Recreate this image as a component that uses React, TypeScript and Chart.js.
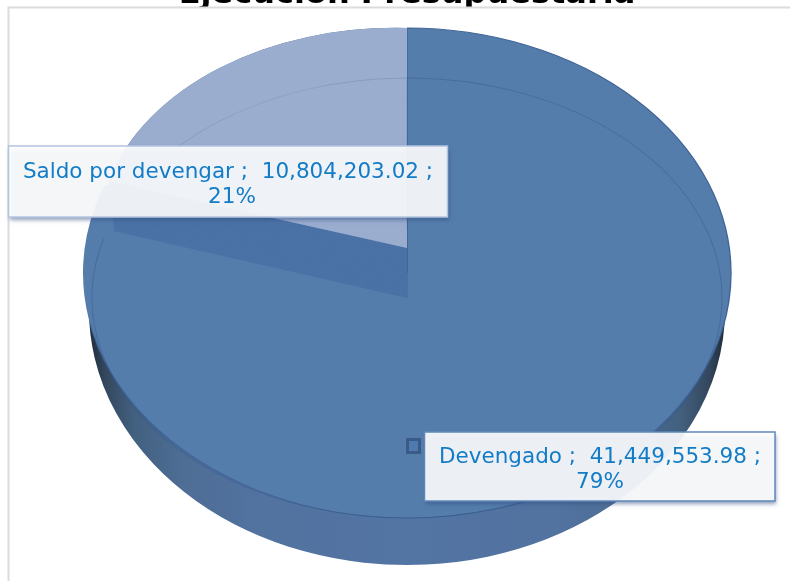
import React, { useEffect, useRef } from "react";
import { Chart, registerables } from "chart.js";

Chart.register(...registerables);

const categories = ["Devengado", "Saldo por devengar"];
const values = [41449553.98, 10804203.02];
const titleText = "Ejecución Presupuestaria";

const TOP_CROP = 25;
const WIDTH = 790;
const HEIGHT = 581;

const total = values.reduce((a, b) => a + b, 0);
const fmt = (v: number) => v.toLocaleString("en-US", { minimumFractionDigits: 2, maximumFractionDigits: 2 });
const labelLines = (i: number) => [
  `${categories[i]} ;  ${fmt(values[i])} ;`,
  `${Math.round((values[i] / total) * 100)}%`,
];

function withArc(ctx: any, el: any, shape: number[], style: any, shear = 0) {
  const [cx, cy, rx, ry] = shape;
  const R = el.outerRadius;
  ctx.save();
  ctx.translate(cx, cy);
  ctx.transform(rx / R, (shear * rx) / R, 0, ry / R, 0, 0);
  ctx.translate(-el.x, -el.y);
  const saved = el.options;
  el.options = Object.assign({}, saved, { borderWidth: 0, borderColor: "transparent" }, style);
  el.draw(ctx);
  el.options = saved;
  ctx.restore();
}

function drawBox(ctx: any, lines: string[], box: number[], border: string, baselines: number[], centers: number[]) {
  const [x, y, w, h] = box;
  ctx.save();
  ctx.shadowColor = "rgba(50,80,130,0.6)";
  ctx.shadowBlur = 4;
  ctx.shadowOffsetX = 1;
  ctx.shadowOffsetY = 3;
  ctx.fillStyle = "rgba(255,255,255,0.9)";
  ctx.fillRect(x, y, w, h);
  ctx.restore();
  ctx.strokeStyle = border;
  ctx.lineWidth = 1.5;
  ctx.strokeRect(x, y, w, h);
  ctx.fillStyle = "#127cc6";
  ctx.font = "21.5px 'DejaVu Sans'";
  ctx.textAlign = "center";
  ctx.textBaseline = "alphabetic";
  lines.forEach((t, i) => ctx.fillText(t, centers[i], baselines[i]));
}

const pie3d = {
  id: "pie3d",
  beforeDatasetsDraw(chart: any) {
    const ctx = chart.ctx;
    const [main, rest] = chart.getDatasetMeta(0).data;
    ctx.save();
    ctx.translate(0, TOP_CROP);

    // plot frame covers the lower part of the title
    ctx.fillStyle = "#ffffff";
    ctx.fillRect(8, 7, WIDTH, HEIGHT);
    ctx.strokeStyle = "#dcdcdc";
    ctx.lineWidth = 2;
    ctx.beginPath();
    ctx.moveTo(8.5, HEIGHT + 5);
    ctx.lineTo(8.5, 7.5);
    ctx.lineTo(WIDTH + 5, 7.5);
    ctx.stroke();

    // side wall
    const g = ctx.createLinearGradient(main.x - main.outerRadius, 0, main.x + main.outerRadius, 0);
    g.addColorStop(0, "#1f2c3a");
    g.addColorStop(0.025, "#34475e");
    g.addColorStop(0.07, "#42607f");
    g.addColorStop(0.15, "#4e6e96");
    g.addColorStop(0.27, "#5272a0");
    g.addColorStop(0.5, "#5375a3");
    g.addColorStop(0.73, "#5272a0");
    g.addColorStop(0.85, "#4e6e96");
    g.addColorStop(0.93, "#42607f");
    g.addColorStop(0.975, "#34475e");
    g.addColorStop(1, "#1f2c3a");
    withArc(ctx, main, [407, 310, 318, 255], { backgroundColor: g });

    // top face
    const face = [407, 273, 324, 245];
    withArc(ctx, main, face, { backgroundColor: "#557dac" });
    ctx.save();
    ctx.beginPath();
    ctx.rect(0, 185, 407, 200);
    ctx.clip();
    withArc(ctx, rest, face, { backgroundColor: "#557dac" });
    ctx.restore();
    // face outline, without the radial edges
    ctx.save();
    ctx.beginPath();
    ctx.rect(0, 325, WIDTH, HEIGHT);
    ctx.rect(407, 0, WIDTH, 325);
    ctx.clip();
    withArc(ctx, main, face, { backgroundColor: "transparent", borderColor: "#3f6496", borderWidth: 1.2 });
    ctx.restore();

    // inner rim
    ctx.save();
    ctx.beginPath();
    ctx.rect(0, 0, 104, HEIGHT);
    ctx.rect(104, 300, WIDTH, HEIGHT);
    ctx.rect(407, 0, WIDTH, 300);
    ctx.clip();
    withArc(ctx, main, [407, 298, 315, 220], { backgroundColor: "transparent", borderColor: "rgba(50,85,135,0.4)", borderWidth: 1 });
    ctx.restore();

    // wall of the cut-out slice
    const steps = 50;
    for (let t = steps; t >= 0; t--) {
      const f = t / steps;
      withArc(ctx, rest, [407, 248 + 50 * f, 310 - 6 * f, 220], { backgroundColor: "#4b72a6" }, 0.026);
    }

    // cut-out slice
    withArc(ctx, rest, [407, 248, 310, 220], { backgroundColor: "#9aadcf" }, 0.026);
    ctx.save();
    ctx.beginPath();
    ctx.rect(104, 0, 303, 230);
    ctx.clip();
    withArc(ctx, rest, [407, 298, 315, 220], { backgroundColor: "transparent", borderColor: "rgba(90,120,170,0.3)", borderWidth: 1 });
    ctx.restore();
    ctx.restore();
    return false;
  },
  afterDraw(chart: any) {
    const ctx = chart.ctx;
    ctx.save();
    ctx.translate(0, TOP_CROP);
    // marker
    ctx.fillStyle = "#4f7aaf";
    ctx.strokeStyle = "#3a5a88";
    ctx.lineWidth = 3;
    ctx.fillRect(407.5, 439.5, 12, 13);
    ctx.strokeRect(407.5, 439.5, 12, 13);
    drawBox(ctx, labelLines(1), [8.5, 146, 439, 71], "#b3c4e0", [178, 203], [228, 232]);
    drawBox(ctx, labelLines(0), [424.5, 432, 350.5, 69], "#5f88b8", [463, 488], [600, 600]);
    ctx.restore();
  },
};

export default function App() {
  const ref = useRef<HTMLCanvasElement>(null);
  useEffect(() => {
    const chart = new Chart(ref.current as HTMLCanvasElement, {
      type: "pie",
      data: {
        labels: categories,
        datasets: [{ data: values, backgroundColor: ["#557dac", "#9aadcf"], borderWidth: 0 }],
      },
      options: {
        responsive: false,
        animation: false,
        devicePixelRatio: 1,
        layout: { padding: { left: 24 } },
        plugins: {
          legend: { display: false },
          tooltip: { enabled: false },
          title: {
            display: true,
            text: titleText,
            color: "#000000",
            font: { family: "'DejaVu Sans'", size: 32, weight: "bold" },
            padding: 0,
            fullSize: false,
          },
        },
      },
      plugins: [pie3d],
    } as any);
    return () => chart.destroy();
  }, []);
  return (
    <div style={{ position: "absolute", left: 0, top: 0, width: WIDTH, height: HEIGHT, overflow: "hidden", background: "#fff" }}>
      <canvas
        ref={ref}
        width={WIDTH}
        height={HEIGHT + TOP_CROP}
        style={{ position: "absolute", left: 0, top: -TOP_CROP, width: WIDTH, height: HEIGHT + TOP_CROP, filter: "blur(0.4px)" }}
      />
    </div>
  );
}
